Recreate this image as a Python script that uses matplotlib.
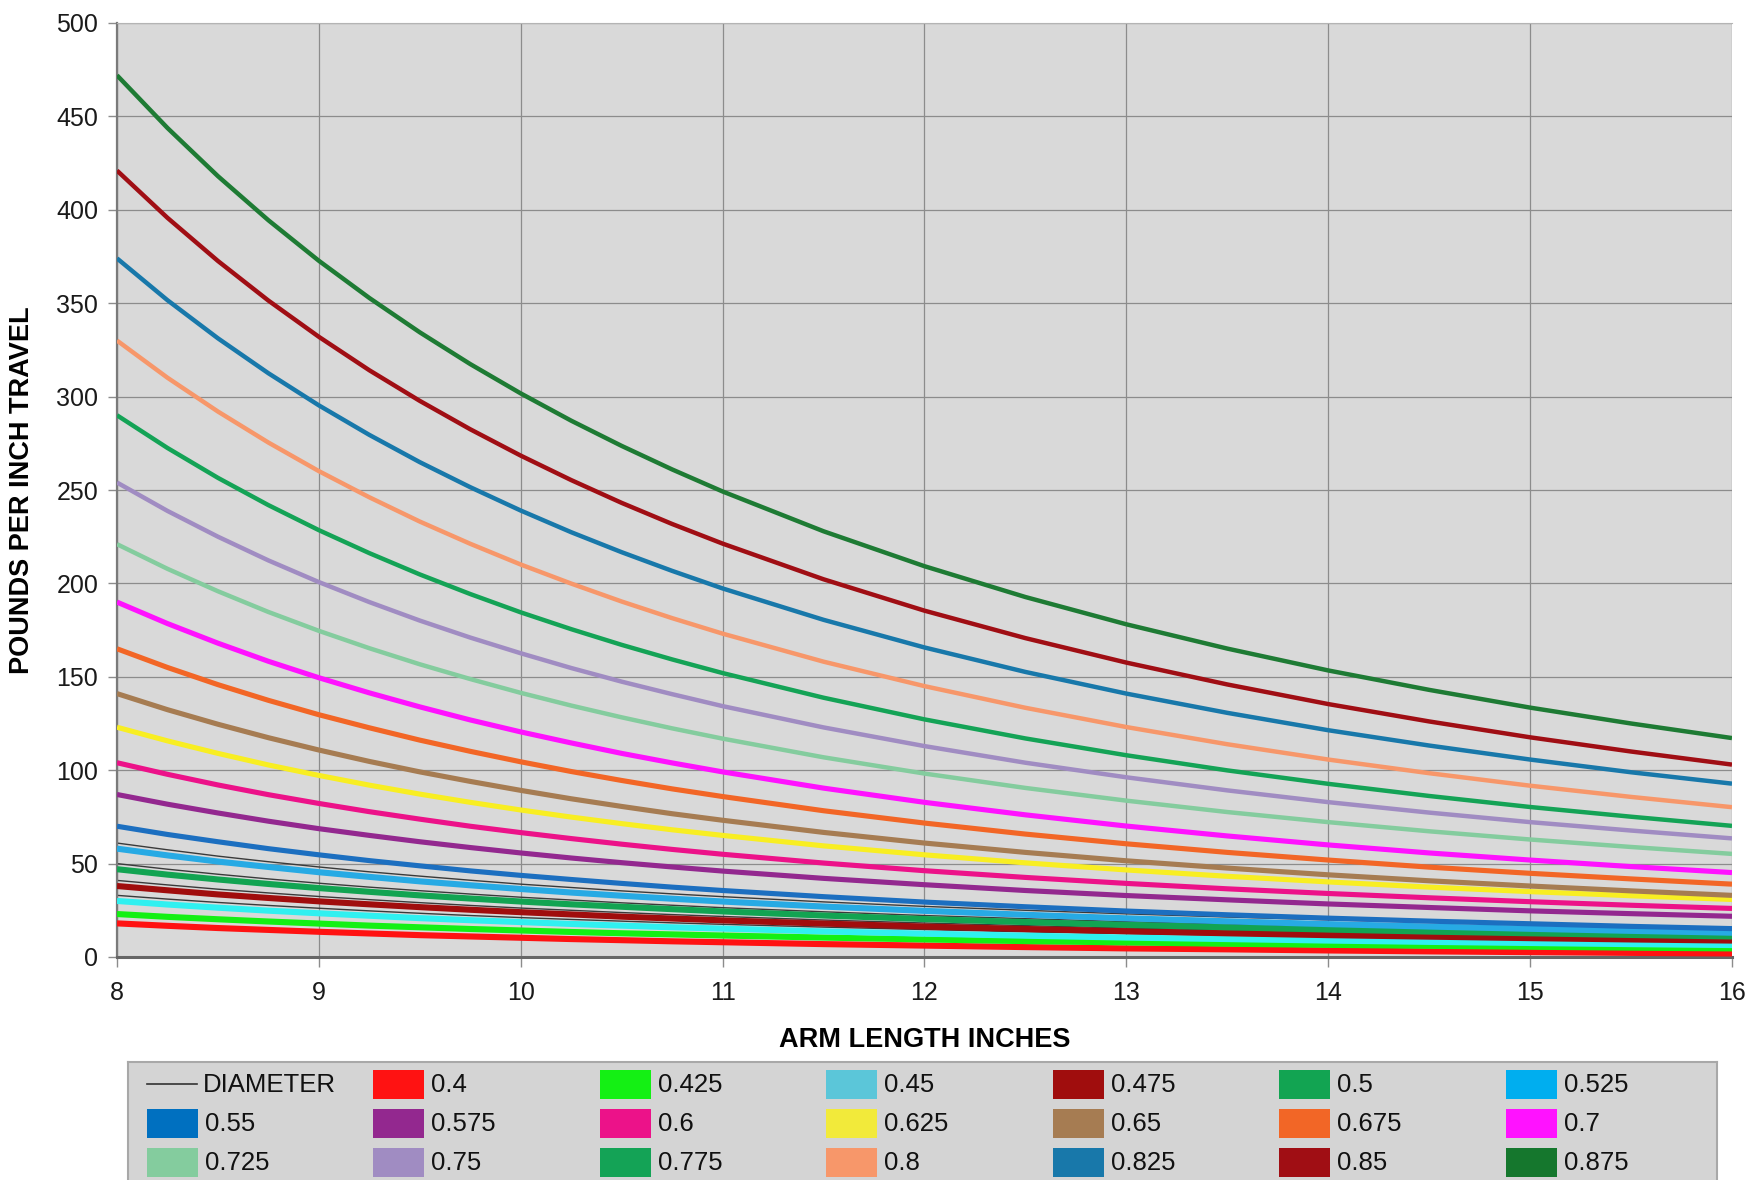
import matplotlib
matplotlib.use('Agg')
import matplotlib.pyplot as plt
from matplotlib.patches import Rectangle

plt.rcParams['font.family'] = ['Liberation Sans', 'DejaVu Sans']

arm_length = [8, 8.25, 8.5, 8.75, 9, 9.25, 9.5, 9.75, 10, 10.25, 10.5, 10.75, 11,
              11.5, 12, 12.5, 13, 13.5, 14, 14.5, 15, 15.5, 16]

# pounds per inch travel, one list per bar diameter
rate_0400 = [18.0, 16.7, 15.5, 14.5, 13.5, 12.6, 11.7, 11.0, 10.3, 9.6, 9.0, 8.4, 7.9, 6.9, 6.1, 5.3, 4.6, 4.1, 3.5, 3.0, 2.6, 2.2, 1.9]
rate_0425 = [23.0, 21.5, 20.2, 19.0, 17.9, 16.8, 15.9, 15.0, 14.2, 13.4, 12.7, 12.1, 11.5, 10.4, 9.4, 8.5, 7.8, 7.1, 6.5, 6.0, 5.5, 5.0, 4.6]
rate_0450 = [30.0, 28.1, 26.4, 24.8, 23.4, 22.1, 20.8, 19.7, 18.7, 17.7, 16.8, 15.9, 15.2, 13.7, 12.5, 11.4, 10.4, 9.6, 8.8, 8.1, 7.5, 6.9, 6.4]
rate_0475 = [38.0, 35.7, 33.5, 31.6, 29.8, 28.2, 26.7, 25.3, 24.0, 22.8, 21.6, 20.6, 19.6, 17.9, 16.3, 15.0, 13.8, 12.7, 11.7, 10.9, 10.1, 9.4, 8.8]
rate_0500 = [47.0, 44.1, 41.5, 39.1, 36.9, 34.9, 33.0, 31.3, 29.7, 28.2, 26.9, 25.6, 24.4, 22.2, 20.3, 18.7, 17.2, 15.9, 14.7, 13.6, 12.7, 11.8, 11.0]
rate_0525 = [58.0, 54.4, 51.1, 48.2, 45.4, 42.9, 40.5, 38.4, 36.4, 34.5, 32.8, 31.2, 29.7, 27.0, 24.7, 22.6, 20.7, 19.1, 17.6, 16.3, 15.1, 14.0, 13.0]
rate_0550 = [70.0, 65.6, 61.7, 58.0, 54.7, 51.6, 48.8, 46.1, 43.7, 41.5, 39.4, 37.4, 35.6, 32.3, 29.4, 26.9, 24.6, 22.6, 20.8, 19.2, 17.8, 16.4, 15.2]
rate_0575 = [87.0, 81.8, 77.1, 72.7, 68.7, 65.1, 61.7, 58.6, 55.7, 53.0, 50.5, 48.2, 46.0, 42.1, 38.7, 35.6, 32.9, 30.6, 28.4, 26.5, 24.7, 23.2, 21.8]
rate_0600 = [104.0, 97.8, 92.1, 86.9, 82.2, 77.8, 73.8, 70.0, 66.6, 63.4, 60.4, 57.6, 55.0, 50.3, 46.2, 42.6, 39.4, 36.5, 34.0, 31.7, 29.6, 27.7, 26.0]
rate_0625 = [123.0, 115.7, 109.0, 102.8, 97.2, 92.0, 87.2, 82.8, 78.7, 74.9, 71.4, 68.1, 65.1, 59.5, 54.7, 50.4, 46.6, 43.2, 40.2, 37.4, 35.0, 32.8, 30.8]
rate_0650 = [141.0, 132.4, 124.6, 117.4, 110.8, 104.7, 99.1, 94.0, 89.2, 84.7, 80.6, 76.7, 73.2, 66.7, 61.0, 56.0, 51.5, 47.6, 44.0, 40.8, 38.0, 35.4, 33.0]
rate_0675 = [165.0, 155.0, 145.8, 137.4, 129.7, 122.7, 116.1, 110.1, 104.5, 99.3, 94.5, 90.0, 85.9, 78.3, 71.7, 65.8, 60.6, 56.0, 51.9, 48.1, 44.8, 41.8, 39.0]
rate_0700 = [190.0, 178.5, 168.0, 158.3, 149.5, 141.4, 133.9, 126.9, 120.5, 114.6, 109.0, 103.9, 99.1, 90.4, 82.8, 76.1, 70.1, 64.8, 60.0, 55.7, 51.9, 48.4, 45.2]
rate_0725 = [221.0, 207.8, 195.8, 184.7, 174.6, 165.3, 156.7, 148.8, 141.4, 134.6, 128.3, 122.4, 116.9, 106.9, 98.2, 90.5, 83.7, 77.6, 72.2, 67.3, 62.9, 58.9, 55.2]
rate_0750 = [254.0, 238.8, 225.0, 212.3, 200.7, 190.0, 180.1, 171.0, 162.6, 154.7, 147.4, 140.7, 134.3, 122.9, 112.9, 104.0, 96.2, 89.2, 82.9, 77.3, 72.2, 67.7, 63.5]
rate_0775 = [290.0, 272.5, 256.5, 241.9, 228.5, 216.2, 204.8, 194.3, 184.5, 175.5, 167.1, 159.3, 152.0, 138.8, 127.2, 117.0, 108.0, 99.9, 92.7, 86.2, 80.3, 75.1, 70.2]
rate_0800 = [330.0, 310.1, 292.0, 275.4, 260.1, 246.1, 233.1, 221.2, 210.1, 199.9, 190.3, 181.4, 173.1, 158.1, 145.0, 133.4, 123.1, 113.9, 105.7, 98.4, 91.7, 85.7, 80.2]
rate_0825 = [374.0, 351.6, 331.2, 312.5, 295.3, 279.5, 264.9, 251.5, 239.0, 227.4, 216.7, 206.7, 197.3, 180.5, 165.7, 152.6, 141.0, 130.7, 121.4, 113.2, 105.7, 98.9, 92.8]
rate_0850 = [421.0, 395.7, 372.6, 351.4, 332.0, 314.1, 297.7, 282.5, 268.4, 255.3, 243.1, 231.8, 221.3, 202.2, 185.4, 170.7, 157.6, 145.9, 135.4, 126.1, 117.6, 110.0, 103.0]
rate_0875 = [472.0, 443.8, 418.0, 394.4, 372.7, 352.8, 334.4, 317.4, 301.7, 287.1, 273.6, 261.0, 249.2, 227.9, 209.2, 192.7, 178.1, 165.1, 153.4, 143.0, 133.5, 125.0, 117.2]

# thin dark "DIAMETER" lines
diameter_1 = [61.0, 57.4, 54.0, 51.0, 48.2, 45.6, 43.3, 41.1, 39.0, 37.2, 35.4, 33.8, 32.3, 29.5, 27.1, 25.0, 23.1, 21.4, 19.9, 18.6, 17.4, 16.2, 15.2]
diameter_2 = [50.0, 47.0, 44.3, 41.8, 39.5, 37.4, 35.5, 33.7, 32.0, 30.5, 29.0, 27.7, 26.4, 24.2, 22.2, 20.5, 18.9, 17.6, 16.3, 15.2, 14.2, 13.3, 12.5]
diameter_3 = [41.0, 38.6, 36.3, 34.3, 32.4, 30.7, 29.1, 27.6, 26.2, 25.0, 23.8, 22.7, 21.7, 19.8, 18.2, 16.8, 15.5, 14.4, 13.4, 12.5, 11.7, 10.9, 10.2]
diameter_4 = [33.0, 31.0, 29.2, 27.6, 26.1, 24.7, 23.4, 22.2, 21.1, 20.1, 19.2, 18.3, 17.5, 16.0, 14.7, 13.5, 12.5, 11.6, 10.8, 10.0, 9.4, 8.8, 8.2]

diameters = ['0.4', '0.425', '0.45', '0.475', '0.5', '0.525', '0.55', '0.575', '0.6', '0.625',
             '0.65', '0.675', '0.7', '0.725', '0.75', '0.775', '0.8', '0.825', '0.85', '0.875']
series = [rate_0400, rate_0425, rate_0450, rate_0475, rate_0500, rate_0525, rate_0550, rate_0575,
          rate_0600, rate_0625, rate_0650, rate_0675, rate_0700, rate_0725, rate_0750, rate_0775,
          rate_0800, rate_0825, rate_0850, rate_0875]
colors = ['#ff1212', '#14f014', '#30f0f0', '#a00d0d', '#12a452', '#27aae4', '#1c6fc0', '#93288f',
          '#ec1289', '#f8ee22', '#a67c52', '#f26626', '#ff12ff', '#84cc9e', '#a08cc2', '#14a356',
          '#f7976a', '#1878aa', '#a00e14', '#1e7b34']
swatch_colors = dict(zip(diameters, colors))
swatch_colors['0.45'] = '#5bc6d9'
swatch_colors['0.525'] = '#00aeef'
swatch_colors['0.55'] = '#0070c0'
swatch_colors['0.625'] = '#f2ea3a'
swatch_colors['0.875'] = '#15772d'

fig = plt.figure(figsize=(17.49, 11.80), dpi=100)
ax = fig.add_axes([117 / 1749, 1 - 957 / 1180, 1615 / 1749, 934 / 1180])
ax.set_facecolor('#d9d9d9')

for d_line in [diameter_1, diameter_2, diameter_3, diameter_4]:
    ax.plot(arm_length, d_line, color='#3a3a3a', lw=1.0, zorder=2)

for i, (name, vals) in enumerate(zip(diameters, series)):
    d = float(name)
    if d < 0.55:
        lw = 4.4
    elif d < 0.725:
        lw = 3.7
    else:
        lw = 3.2
    ax.plot(arm_length, vals, color=colors[i], lw=lw, solid_capstyle='butt',
            solid_joinstyle='round', zorder=3)

ax.set_xlim(8, 16)
ax.set_ylim(0, 500)
ax.set_xticks(range(8, 17))
ax.set_yticks(range(0, 501, 50))
ax.grid(True, color='#8c8c8c', lw=0.9)
ax.set_axisbelow(True)

ax.spines['top'].set_color('#b4b4b4')
ax.spines['right'].set_visible(False)
ax.spines['left'].set_color('#7a7a7a')
ax.spines['left'].set_linewidth(1.6)
ax.spines['bottom'].set_color('#666666')
ax.spines['bottom'].set_linewidth(2.2)

ax.tick_params(axis='y', length=6.5, width=1, color='#8c8c8c', labelsize=18, pad=7, labelcolor='#1a1a1a')
ax.tick_params(axis='x', length=7, width=1, color='#8c8c8c', labelsize=18, pad=10, labelcolor='#1a1a1a')

ax.set_xlabel('ARM LENGTH INCHES', fontsize=19.5, fontweight='bold')
ax.xaxis.set_label_coords(0.5, (957 - 1040) / 934)
ax.xaxis.label.set_va('center')
ax.set_ylabel('POUNDS PER INCH TRAVEL', fontsize=19.5, fontweight='bold')
ax.yaxis.set_label_coords((22 - 117) / 1615, 0.5)
ax.yaxis.label.set_va('center')
ax.yaxis.label.set_ha('center')

# legend box drawn like the spreadsheet one: 7 equal columns, row by row
lax = fig.add_axes([128 / 1749, -30 / 1180, 1589 / 1749, 148 / 1180])
lax.set_xlim(0, 1589)
lax.set_ylim(148, 0)
lax.set_facecolor('#d4d4d4')
for s in lax.spines.values():
    s.set_color('#a8a8a8')
    s.set_linewidth(1.5)
lax.set_xticks([])
lax.set_yticks([])

entries = ['DIAMETER'] + diameters
for i, label in enumerate(entries):
    r, c = divmod(i, 7)
    x0 = 19 + 226.5 * c
    yc = 22 + 39 * r
    if i == 0:
        lax.plot([x0, x0 + 50], [yc, yc], color='#333333', lw=1.2)
        tx = x0 + 56
    else:
        lax.add_patch(Rectangle((x0, yc - 14.5), 51, 29, facecolor=swatch_colors[label], edgecolor='none'))
        tx = x0 + 58
    lax.text(tx, yc + 1, label, ha='left', va='center', fontsize=18.5, color='#111111')

fig.savefig('out.png', dpi=100)
